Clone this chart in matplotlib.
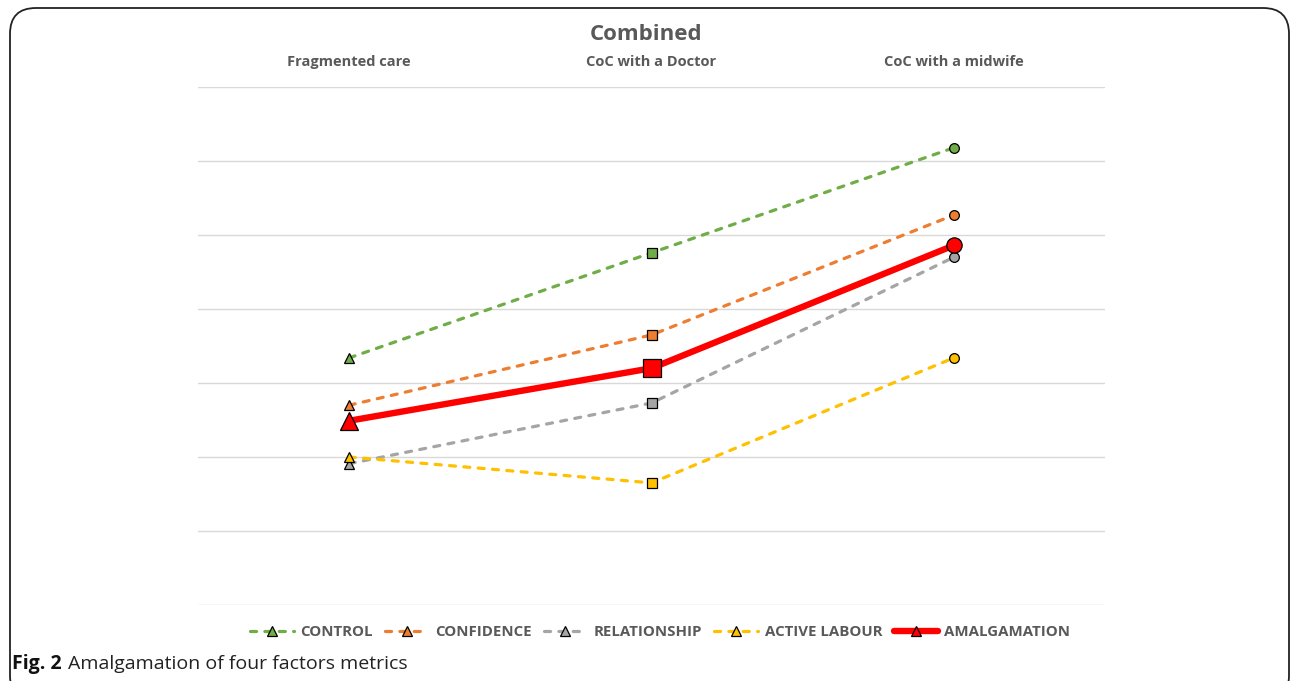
import matplotlib.pyplot as plt
from matplotlib.lines import Line2D
from matplotlib.patches import FancyBboxPatch

plt.rcParams['font.family'] = ['Open Sans', 'DejaVu Sans']

# Care models along the top axis
categories = ["Fragmented care", "CoC with a Doctor", "CoC with a midwife"]

# Factor scores per care model
control = [3.34, 4.76, 6.18]
confidence = [2.70, 3.65, 5.27]
relationship = [1.91, 2.73, 4.70]
active_labour = [2.00, 1.65, 3.34]
amalgamation = [2.49, 3.20, 4.86]

series_names = ["CONTROL", "CONFIDENCE", "RELATIONSHIP", "ACTIVE LABOUR", "AMALGAMATION"]
series_values = [control, confidence, relationship, active_labour, amalgamation]
colors = ["#70AD47", "#ED7D31", "#A5A5A5", "#FFC000", "#FF0000"]
point_markers = ["^", "s", "o"]

TEXT = "#595959"

fig = plt.figure(figsize=(12.92, 6.81), dpi=100)
ax = fig.add_axes([0.1533, 0.1116, 0.702, 0.7606])

x = list(range(len(categories)))
handles = []
for name, vals, col in zip(series_names, series_values, colors):
    main = name == "AMALGAMATION"
    lw = 4.6 if main else 2.3
    ls = "-" if main else (0, (1.9, 2.6))
    ms = [13, 13, 11] if main else [7.5, 6.5, 7]
    z = 5 if main else 3
    ax.plot(x, vals, color=col, lw=lw, linestyle=ls, zorder=z,
            solid_capstyle="round", dash_capstyle="round")
    for xi, v, m, s in zip(x, vals, point_markers, ms):
        ax.plot(xi, v, marker=m, markersize=s, markerfacecolor=col,
                markeredgecolor="black", markeredgewidth=0.9, linestyle="none", zorder=z + 0.5)
    handles.append(Line2D([], [], color=col, lw=lw, linestyle=ls, marker="^", markersize=7,
                          markerfacecolor=col, markeredgecolor="black", markeredgewidth=0.9,
                          solid_capstyle="round", dash_capstyle="round"))

ax.set_xlim(-0.5, 2.5)
ax.set_ylim(0, 7)
ax.set_yticks(range(0, 8))
ax.yaxis.grid(True, color="#D9D9D9", lw=1.0)
ax.set_axisbelow(True)
ax.tick_params(axis="y", left=False, labelleft=False)
ax.xaxis.tick_top()
ax.set_xticks(x)
ax.set_xticklabels(categories, fontsize=10.5, fontweight="bold", color=TEXT)
ax.tick_params(axis="x", length=0, pad=13)
for sp in ax.spines.values():
    sp.set_visible(False)

fig.text(0.5, 1 - 35 / 681, "Combined", ha="center", va="center", fontsize=16,
         fontweight="bold", color=TEXT)

leg = fig.legend(handles, series_names, loc="center", bbox_to_anchor=(0.511, 1 - 632 / 681),
                 ncol=5, frameon=False, handlelength=2.9, columnspacing=0.8,
                 handletextpad=0.45, prop={"size": 10.8, "weight": "bold"})
for t in leg.get_texts():
    t.set_color(TEXT)

# Rounded frame around the chart
frame = FancyBboxPatch((10 / 1292, -0.03), 1279 / 1292, 0.03 + 673 / 681,
                       boxstyle="round,pad=0,rounding_size=0.02",
                       transform=fig.transFigure, fill=False, edgecolor="#222222",
                       lw=1.3, mutation_aspect=1292 / 681)
fig.patches.append(frame)

# Caption: bold figure number followed by the description
cap_y = 1 - 664 / 681
fig_no = fig.text(12 / 1292, cap_y, "Fig. 2", fontsize=14, fontweight="bold",
                  va="center", ha="left", color="#111111")
fig.canvas.draw()
bb = fig_no.get_window_extent().transformed(fig.transFigure.inverted())
fig.text(bb.x1 + 6 / 1292, cap_y, "Amalgamation of four factors metrics", fontsize=14,
         va="center", ha="left", color="#222222")

fig.savefig("out.png", dpi=100)
